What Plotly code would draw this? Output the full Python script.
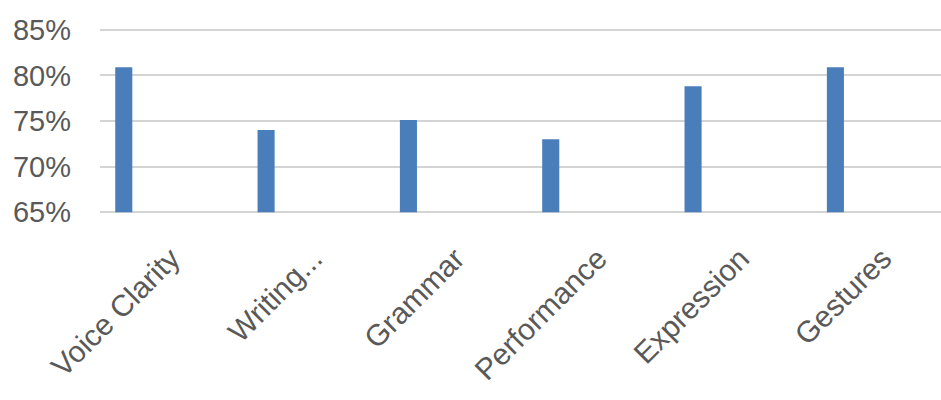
import plotly.graph_objects as go

categories = ["Voice Clarity", "Writing...", "Grammar", "Performance", "Expression", "Gestures"]
values = [0.809, 0.740, 0.751, 0.730, 0.788, 0.809]
baseline = 0.65
y_ticks = [0.65, 0.70, 0.75, 0.80, 0.85]
y_tick_labels = ["65%", "70%", "75%", "80%", "85%"]

fig = go.Figure()
fig.add_trace(go.Bar(
    x=list(range(len(categories))),
    y=[v - baseline for v in values],
    base=baseline,
    marker=dict(color="#4a7ebb", line=dict(width=0)),
    width=0.12,
    offset=-0.393,
    hoverinfo="skip",
))

fig.update_layout(
    width=941, height=400,
    margin=dict(l=100, r=0, t=28, b=186),
    paper_bgcolor="white", plot_bgcolor="white",
    showlegend=False,
    font=dict(family="Liberation Sans", color="#595959", size=28),
    xaxis=dict(
        range=[-0.5, 5.409],
        tickmode="array",
        tickvals=list(range(len(categories))),
        ticktext=categories,
        tickangle=-45,
        showgrid=False, zeroline=False, showline=False, ticks="",
        ticklabelstandoff=20,
        tickfont=dict(size=30, color="#595959"),
    ),
    yaxis=dict(
        range=[0.648, 0.852],
        tickmode="array",
        tickvals=y_ticks,
        ticktext=y_tick_labels,
        showgrid=True, gridcolor="#d4d4d4", gridwidth=2,
        zeroline=False, showline=False, ticks="",
        ticklabelstandoff=28,
        tickfont=dict(size=29, color="#595959"),
    ),
)

fig.write_html("out.html")
